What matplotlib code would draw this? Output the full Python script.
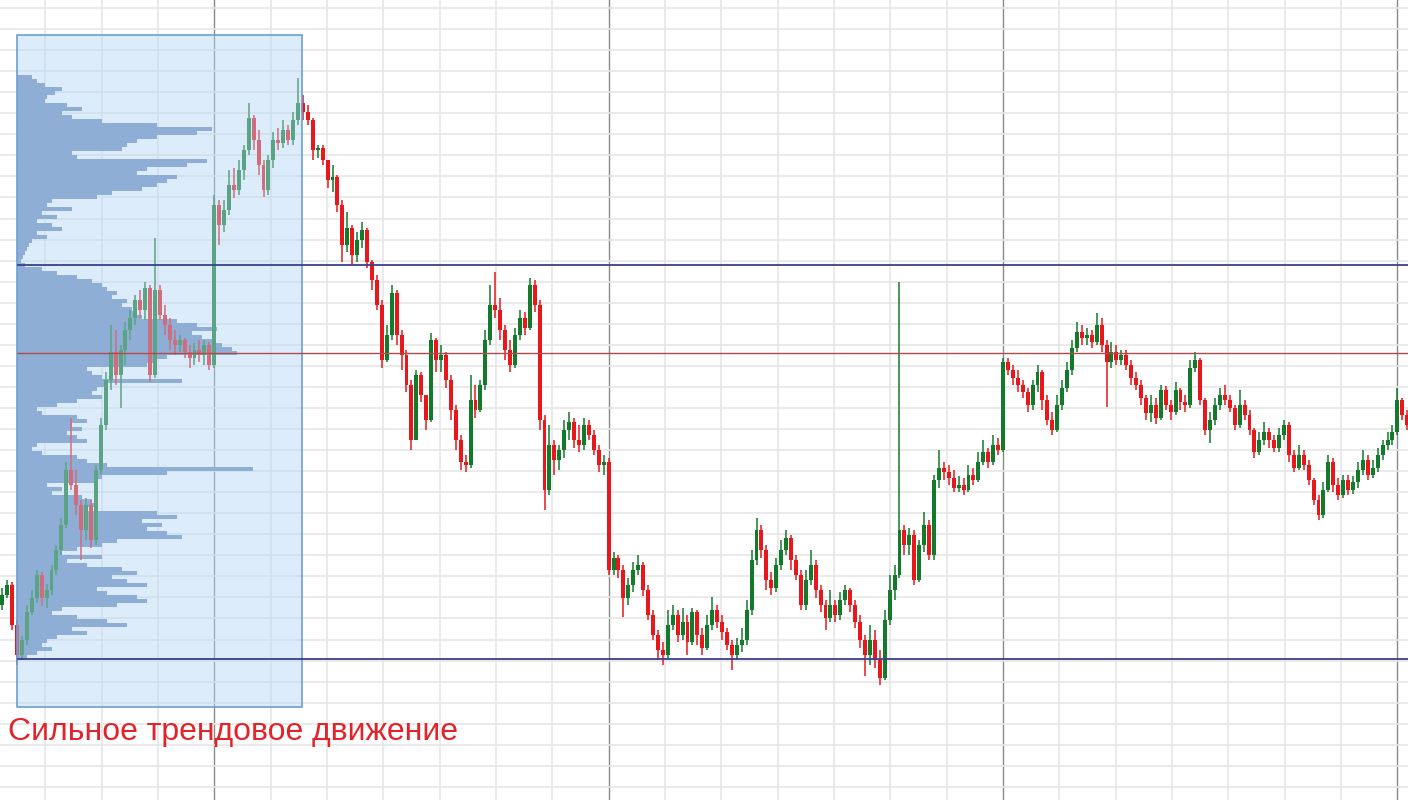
import matplotlib
matplotlib.use("Agg")

import matplotlib.pyplot as plt
from matplotlib.patches import Rectangle
import numpy as np

# price in points, one candle per bar index
first_index = -3
first_open = 195

close = [205, 215, 175, 145, 160, 188, 202, 225, 202, 210,
         230, 250, 275, 330, 315, 295, 270, 295, 260, 330,
         375, 420, 448, 425, 450, 470, 482, 500, 490, 512,
         425, 510, 485, 475, 460, 455, 460, 448, 442, 450,
         445, 455, 435, 595, 575, 590, 615, 610, 630, 650,
         682, 660, 635, 610, 640, 660, 657, 670, 660, 680,
         697, 688, 680, 650, 652, 640, 620, 623, 595, 555,
         572, 545, 560, 570, 538, 520, 495, 440, 465, 507,
         465, 445, 415, 360, 425, 405, 380, 460, 440, 445,
         420, 390, 360, 338, 335, 400, 390, 415, 460, 495,
         490, 470, 450, 435, 465, 482, 472, 515, 495, 380,
         310, 355, 340, 350, 370, 378, 360, 355, 375, 365,
         350, 335, 338, 230, 242, 230, 202, 215, 230, 235,
         210, 185, 165, 150, 145, 175, 185, 165, 178, 158,
         188, 165, 152, 175, 190, 178, 168, 155, 145, 155,
         160, 190, 240, 270, 250, 220, 212, 235, 250, 262,
         240, 225, 195, 220, 235, 210, 195, 182, 195, 185,
         200, 210, 195, 178, 160, 145, 160, 140, 122, 180,
         210, 225, 270, 255, 265, 220, 255, 275, 245, 320,
         332, 328, 322, 312, 315, 310, 325, 320, 338, 348,
         338, 355, 350, 438, 430, 422, 415, 408, 395, 415,
         428, 400, 380, 370, 395, 412, 430, 452, 468, 462,
         465, 458, 475, 455, 438, 448, 440, 445, 435, 422,
         415, 402, 387, 395, 382, 410, 395, 388, 410, 398,
         395, 432, 440, 400, 370, 380, 395, 405, 400, 392,
         375, 395, 385, 370, 348, 360, 368, 360, 352, 365,
         375, 345, 332, 345, 335, 320, 300, 285, 310, 338,
         315, 305, 320, 310, 318, 330, 340, 325, 332, 345,
         355, 360, 368, 400, 385, 375]

high = [212, 220, 218, 180, 164, 195, 210, 230, 228, 216,
        235, 255, 282, 338, 382, 330, 300, 302, 300, 335,
        382, 428, 475, 470, 455, 478, 490, 505, 510, 518,
        515, 562, 515, 495, 482, 470, 465, 462, 455, 457,
        460, 460, 458, 605, 600, 600, 630, 632, 640, 655,
        697, 685, 670, 640, 645, 668, 672, 680, 675, 688,
        722, 705, 695, 682, 655, 655, 640, 635, 625, 600,
        588, 575, 568, 578, 572, 540, 525, 500, 475, 515,
        510, 470, 450, 420, 430, 428, 405, 467, 462, 455,
        448, 425, 395, 365, 345, 425, 415, 420, 470, 515,
        528, 502, 475, 460, 472, 490, 488, 522, 520, 500,
        385, 375, 360, 355, 380, 388, 382, 375, 382, 380,
        370, 355, 345, 342, 248, 245, 235, 222, 238, 245,
        238, 215, 190, 170, 158, 190, 195, 190, 192, 185,
        192, 190, 172, 185, 203, 195, 185, 172, 160, 162,
        172, 200, 250, 282, 275, 255, 228, 242, 260, 270,
        265, 245, 230, 230, 250, 240, 215, 200, 210, 200,
        208, 215, 212, 200, 185, 165, 175, 170, 150, 190,
        225, 235, 518, 275, 272, 270, 260, 288, 280, 325,
        350, 338, 335, 330, 324, 322, 335, 332, 348, 360,
        352, 365, 362, 442, 442, 435, 430, 420, 412, 420,
        435, 430, 405, 388, 405, 420, 438, 460, 478, 475,
        472, 470, 487, 482, 460, 458, 455, 450, 450, 440,
        428, 420, 405, 405, 402, 415, 414, 400, 418, 412,
        405, 440, 448, 442, 402, 388, 402, 412, 415, 405,
        395, 410, 400, 390, 372, 368, 378, 372, 365, 372,
        380, 378, 350, 355, 350, 340, 322, 305, 318, 345,
        342, 322, 325, 325, 324, 338, 350, 345, 340, 352,
        360, 368, 375, 412, 402, 390]

low = [190, 202, 170, 135, 140, 155, 185, 197, 194, 192,
       205, 225, 245, 272, 310, 285, 240, 260, 252, 255,
       325, 370, 410, 415, 392, 435, 460, 475, 482, 480,
       418, 422, 480, 465, 450, 445, 448, 442, 432, 435,
       438, 435, 430, 432, 555, 568, 585, 602, 605, 620,
       645, 650, 625, 603, 605, 632, 650, 652, 655, 655,
       675, 680, 675, 640, 642, 635, 612, 608, 588, 538,
       548, 535, 538, 552, 532, 510, 490, 432, 438, 460,
       455, 430, 408, 350, 360, 398, 370, 378, 428, 428,
       412, 380, 350, 330, 328, 332, 382, 388, 410, 455,
       482, 460, 440, 428, 432, 460, 465, 470, 488, 370,
       290, 305, 325, 330, 342, 360, 352, 348, 350, 360,
       345, 328, 325, 225, 225, 222, 183, 195, 208, 225,
       204, 180, 160, 140, 135, 142, 170, 158, 160, 145,
       155, 155, 145, 150, 170, 172, 160, 150, 130, 140,
       148, 155, 185, 235, 242, 210, 205, 208, 230, 245,
       230, 220, 190, 190, 215, 202, 188, 170, 178, 178,
       180, 195, 188, 172, 152, 124, 135, 132, 115, 120,
       175, 200, 222, 245, 245, 215, 218, 248, 240, 240,
       312, 320, 315, 308, 308, 305, 308, 315, 318, 335,
       332, 335, 345, 348, 425, 415, 408, 402, 388, 390,
       408, 390, 375, 365, 368, 390, 408, 425, 448, 455,
       455, 452, 455, 448, 393, 432, 435, 435, 430, 415,
       410, 395, 380, 378, 376, 380, 390, 380, 385, 390,
       388, 392, 428, 395, 365, 357, 375, 390, 395, 388,
       370, 372, 380, 365, 342, 345, 355, 352, 348, 348,
       360, 338, 328, 330, 330, 315, 295, 280, 282, 308,
       308, 300, 302, 305, 306, 312, 325, 320, 322, 328,
       340, 350, 355, 365, 380, 370]

# volume profile of the highlighted range, from the top price level down
profile_top = 723
profile_step = 4
profile_volume = [15, 20, 28, 45, 38, 30, 28, 50, 65, 45,
                  55, 85, 140, 195, 180, 140, 120, 110, 105, 55,
                  60, 190, 170, 130, 120, 160, 150, 140, 125, 95,
                  80, 35, 30, 55, 25, 40, 20, 35, 45, 20,
                  30, 15, 12, 10, 8, 6, 4, 8, 25, 40,
                  60, 75, 85, 90, 100, 95, 110, 105, 115, 120,
                  125, 160, 180, 200, 175, 185, 195, 205, 215, 220,
                  150, 140, 130, 70, 75, 85, 165, 90, 80, 75,
                  85, 60, 40, 20, 25, 60, 70, 55, 65, 50,
                  60, 70, 20, 15, 25, 60, 70, 90, 236, 150,
                  85, 80, 30, 45, 35, 65, 75, 80, 70, 140,
                  160, 125, 145, 130, 150, 165, 100, 85, 60, 45,
                  85, 50, 70, 105, 120, 95, 110, 130, 80, 90,
                  120, 130, 100, 45, 35, 60, 90, 110, 55, 70,
                  40, 30, 25, 35, 20, 10]

resistance = 535
support = 141
poc = 447

box_start, box_end = 0, 57.8
box_low, box_high = 93, 765

label = "Сильное трендовое движение"

GREEN = "#137a2b"
RED = "#e8171c"

close = np.array(close, dtype=float)
high = np.array(high, dtype=float)
low = np.array(low, dtype=float)
idx = np.arange(first_index, first_index + len(close))
opens = np.concatenate([[first_open], close[:-1]])

fig = plt.figure(figsize=(14.08, 8), dpi=100)
ax = fig.add_axes([0, 0, 1, 1])
x_min, x_max = -3.45, 282.15
ax.set_xlim(x_min, x_max)
ax.set_ylim(0, 800)

# grid
ax.set_xticks([40, 120, 200, 280])
ax.set_xticks(np.arange(40 - 3 * 80 / 7, x_max, 80 / 7), minor=True)
ax.set_yticks([])
ax.set_yticks(792 - 21.05 * np.arange(38), minor=True)
ax.grid(which="minor", color="#e6e6e6", lw=1.2)
ax.grid(which="major", axis="x", color="#8a8a8a", lw=1.0)
ax.set_axisbelow(True)
ax.tick_params(which="both", length=0, labelbottom=False, labelleft=False)
for s in ax.spines.values():
    s.set_visible(False)

# volume profile
vol = np.array(profile_volume, dtype=float)
levels = profile_top - profile_step * np.arange(len(vol))
ax.barh(levels, vol / vol.max() * 47.9, height=profile_step, left=box_start,
        color="#6f8dbc", lw=0, zorder=2)

# candles
up = close >= opens
colors = np.where(up, GREEN, RED)
ax.vlines(idx, low, high, colors=colors, lw=1.1, zorder=3)
bottoms = np.minimum(opens, close)
heights = np.maximum(np.abs(close - opens), 2.0)
ax.bar(idx, heights, bottom=bottoms, width=0.8, color=colors, lw=0, zorder=3)

# highlighted range
ax.add_patch(Rectangle((box_start, box_low), box_end - box_start, box_high - box_low,
                       facecolor=(180 / 255, 215 / 255, 245 / 255), alpha=0.45,
                       edgecolor="none", zorder=4))
ax.add_patch(Rectangle((box_start, box_low), box_end - box_start, box_high - box_low,
                       facecolor="none", edgecolor="#6a9fd4", lw=1.2, zorder=5))

# levels
ax.hlines([resistance, support], box_start, x_max, colors="#3b3f8e", lw=1.3, zorder=6)
ax.hlines(poc, box_start, x_max, colors="#b24a4a", lw=1.0, zorder=6)

ax.text(-1.83, 68, label, color="#e3232a", fontsize=23,
        family=["Liberation Sans", "DejaVu Sans"], va="center", ha="left", zorder=7)

fig.savefig("out.png", dpi=100, facecolor="white")
